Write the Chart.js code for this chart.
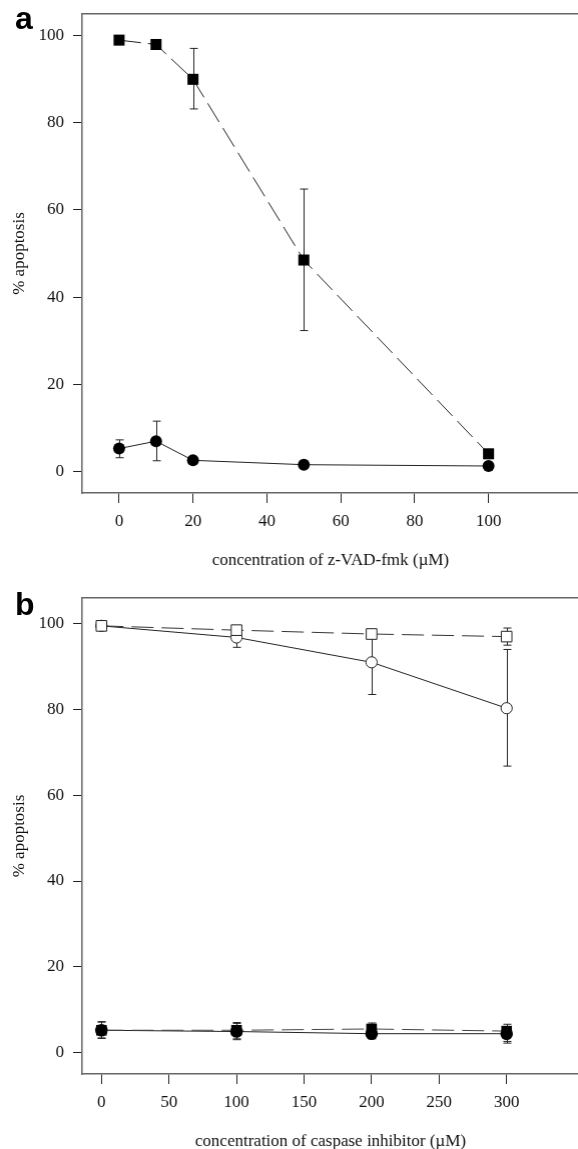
<!DOCTYPE html>
<html>
<head>
<meta charset="utf-8">
<script src="https://cdn.jsdelivr.net/npm/chart.js@4.4.0/dist/chart.umd.min.js"></script>
<style>
    html, body { margin: 0; width: 578px; height: 1149px; overflow: hidden; background: #fff; }
    #page { position: absolute; left: 0; top: 0; width: 578px; height: 1149px; overflow: hidden; }
    .panel { position: absolute; left: 0; width: 578px; }
    .tag { position: absolute; left: 15px; font: bold 32px "Liberation Sans", Arial, sans-serif; line-height: 32px; color: #000; }
</style>
</head>
<body>
<div id="page">
    <div class="panel" id="boxA" style="top:0;height:575px"><canvas id="chartA"></canvas></div>
    <div class="panel" id="boxB" style="top:574px;height:582px"><canvas id="chartB"></canvas></div>
    <div class="tag" style="top:2px">a</div>
    <div class="tag" style="top:588px">b</div>
</div>
<script>
// panel a: z-VAD-fmk
const concA = [0, 10, 20, 50, 100];
const squaresA = [99, 98, 90, 48.5, 4];
const squaresALo = [null, null, 83.2, 32.3, null];
const squaresAHi = [null, null, 97.1, 64.8, null];
const circlesA = [5.2, 6.9, 2.5, 1.5, 1.2];
const circlesALo = [3.1, 2.4, null, null, null];
const circlesAHi = [7.2, 11.5, null, null, null];
const xTicksA = [0, 20, 40, 60, 80, 100];

// panel b: caspase inhibitor
const concB = [0, 100, 200, 300];
const openSquaresB = [99.5, 98.5, 97.6, 97.0];
const openSquaresBLo = [null, null, null, 95];
const openSquaresBHi = [null, null, null, 99];
const openCirclesB = [99.5, 96.8, 91, 80.3];
const openCirclesBLo = [null, 94.5, 83.5, 66.8];
const openCirclesBHi = [null, 99.5, 97.5, 94];
const filledSquaresB = [5.2, 5.2, 5.5, 5.0];
const filledSquaresBLo = [3.4, 3.2, 3.8, 2.6];
const filledSquaresBHi = [7.1, 7.0, 6.9, 6.6];
const filledCirclesB = [5.2, 4.9, 4.4, 4.4];
const filledCirclesBLo = [3.3, 3.0, 3.2, 2.2];
const filledCirclesBHi = [7.2, 6.8, 6.2, 6.0];
const xTicksB = [0, 50, 100, 150, 200, 250, 300];

const yTicks = [0, 20, 40, 60, 80, 100];

const serif = '"Liberation Serif", "Times New Roman", serif';
const frameColor = '#666';
const pageWidth = 578;

// vertical error bars with caps, drawn through the chart scales
const errorBars = {
    id: 'errorBars',
    beforeDatasetsDraw(chart) {
        const ctx = chart.ctx;
        const xs = chart.scales.x, ys = chart.scales.y;
        ctx.save();
        ctx.strokeStyle = '#222';
        ctx.lineWidth = 1;
        chart.data.datasets.forEach(ds => {
            if (!ds.errLo) return;
            ds.data.forEach((p, i) => {
                const lo = ds.errLo[i], hi = ds.errHi[i];
                if (lo == null || hi == null) return;
                const px = Math.round(xs.getPixelForValue(p.x)) + 0.5;
                const yLo = ys.getPixelForValue(lo);
                const yHi = ys.getPixelForValue(hi);
                ctx.beginPath();
                ctx.moveTo(px, yLo); ctx.lineTo(px, yHi);
                ctx.moveTo(px - 4, yLo); ctx.lineTo(px + 4, yLo);
                ctx.moveTo(px - 4, yHi); ctx.lineTo(px + 4, yHi);
                ctx.stroke();
            });
        });
        ctx.restore();
    }
};

function series(xVals, yVals) {
    return xVals.map((x, i) => ({ x: x, y: yVals[i] }));
}

function noPadX(s, h) {
    s.height = h;
    s.paddingLeft = 0;
    s.paddingRight = 0;
}

function makeChart(id, datasets, xMin, xMax, yMax, xTicks, xTitle, topPad) {
    return new Chart(document.getElementById(id), {
        type: 'line',
        data: { datasets: datasets },
        plugins: [errorBars],
        options: {
            responsive: true,
            maintainAspectRatio: false,
            animation: false,
            layout: { padding: { top: topPad, left: 0, right: 0, bottom: 0 } },
            plugins: { legend: { display: false }, tooltip: { enabled: false } },
            scales: {
                x: {
                    type: 'linear',
                    min: xMin,
                    max: xMax,
                    afterBuildTicks: s => { s.ticks = xTicks.map(v => ({ value: v })); },
                    afterFit: s => noPadX(s, 82),
                    grid: { display: true, drawOnChartArea: false, drawTicks: true, tickLength: 10, color: '#222' },
                    border: { display: true, color: frameColor, width: 1.5 },
                    ticks: { color: '#111', font: { family: serif, size: 17 }, padding: 8, maxRotation: 0 },
                    title: { display: true, text: xTitle, color: '#111', font: { family: serif, size: 17 }, padding: { top: 0, bottom: 4 } }
                },
                xTop: {
                    type: 'linear',
                    position: 'top',
                    min: xMin,
                    max: xMax,
                    afterFit: s => noPadX(s, 0),
                    grid: { display: false },
                    border: { display: true, color: frameColor, width: 1.5 },
                    ticks: { display: false }
                },
                y: {
                    type: 'linear',
                    min: -5,
                    max: yMax,
                    afterBuildTicks: s => { s.ticks = yTicks.map(v => ({ value: v })); },
                    afterFit: s => { s.width = 82; s.paddingTop = 0; s.paddingBottom = 0; },
                    grid: { display: true, drawOnChartArea: false, drawTicks: true, tickLength: 9, color: '#222' },
                    border: { display: true, color: frameColor, width: 1.5 },
                    ticks: { color: '#111', font: { family: serif, size: 17 }, padding: 9 },
                    title: { display: true, text: '% apoptosis', color: '#111', font: { family: serif, size: 17 }, padding: { top: 9, bottom: 0 } }
                }
            }
        }
    });
}

// the plot frame in the source runs off the right edge of the page,
// so widen the box until the chart area reaches it (the rest is clipped)
function stretchToEdge(chart, boxId) {
    const gap = pageWidth - chart.chartArea.right;
    if (gap > 0) {
        document.getElementById(boxId).style.width = (pageWidth + gap) + 'px';
        chart.resize();
    }
}

const chartA = makeChart('chartA', [
    {
        data: series(concA, squaresA), errLo: squaresALo, errHi: squaresAHi,
        borderColor: '#222', borderWidth: 1, borderDash: [22, 7],
        pointStyle: 'rect', pointRadius: 7.8, pointBackgroundColor: '#000', pointBorderColor: '#000', pointBorderWidth: 0
    },
    {
        data: series(concA, circlesA), errLo: circlesALo, errHi: circlesAHi,
        borderColor: '#222', borderWidth: 1,
        pointStyle: 'circle', pointRadius: 6, pointBackgroundColor: '#000', pointBorderColor: '#000', pointBorderWidth: 0
    }
], -10, 124.5, 105, xTicksA, 'concentration of z-VAD-fmk (\u00b5M)', 14);

const chartB = makeChart('chartB', [
    {
        data: series(concB, openSquaresB), errLo: openSquaresBLo, errHi: openSquaresBHi,
        borderColor: '#333', borderWidth: 1, borderDash: [22, 8],
        pointStyle: 'rect', pointRadius: 7.5, pointBackgroundColor: '#fff', pointBorderColor: '#222', pointBorderWidth: 1
    },
    {
        data: series(concB, openCirclesB), errLo: openCirclesBLo, errHi: openCirclesBHi,
        borderColor: '#222', borderWidth: 1,
        pointStyle: 'circle', pointRadius: 5.6, pointBackgroundColor: '#fff', pointBorderColor: '#222', pointBorderWidth: 1
    },
    {
        data: series(concB, filledSquaresB), errLo: filledSquaresBLo, errHi: filledSquaresBHi,
        borderColor: '#444', borderWidth: 1, borderDash: [22, 8],
        pointStyle: 'rect', pointRadius: 7.5, pointBackgroundColor: '#000', pointBorderColor: '#000', pointBorderWidth: 0
    },
    {
        data: series(concB, filledCirclesB), errLo: filledCirclesBLo, errHi: filledCirclesBHi,
        borderColor: '#222', borderWidth: 1,
        pointStyle: 'circle', pointRadius: 6.3, pointBackgroundColor: '#000', pointBorderColor: '#000', pointBorderWidth: 0
    }
], -14.3, 353.6, 106, xTicksB, 'concentration of caspase inhibitor (\u00b5M)', 24);

stretchToEdge(chartA, 'boxA');
stretchToEdge(chartB, 'boxB');
</script>
</body>
</html>
